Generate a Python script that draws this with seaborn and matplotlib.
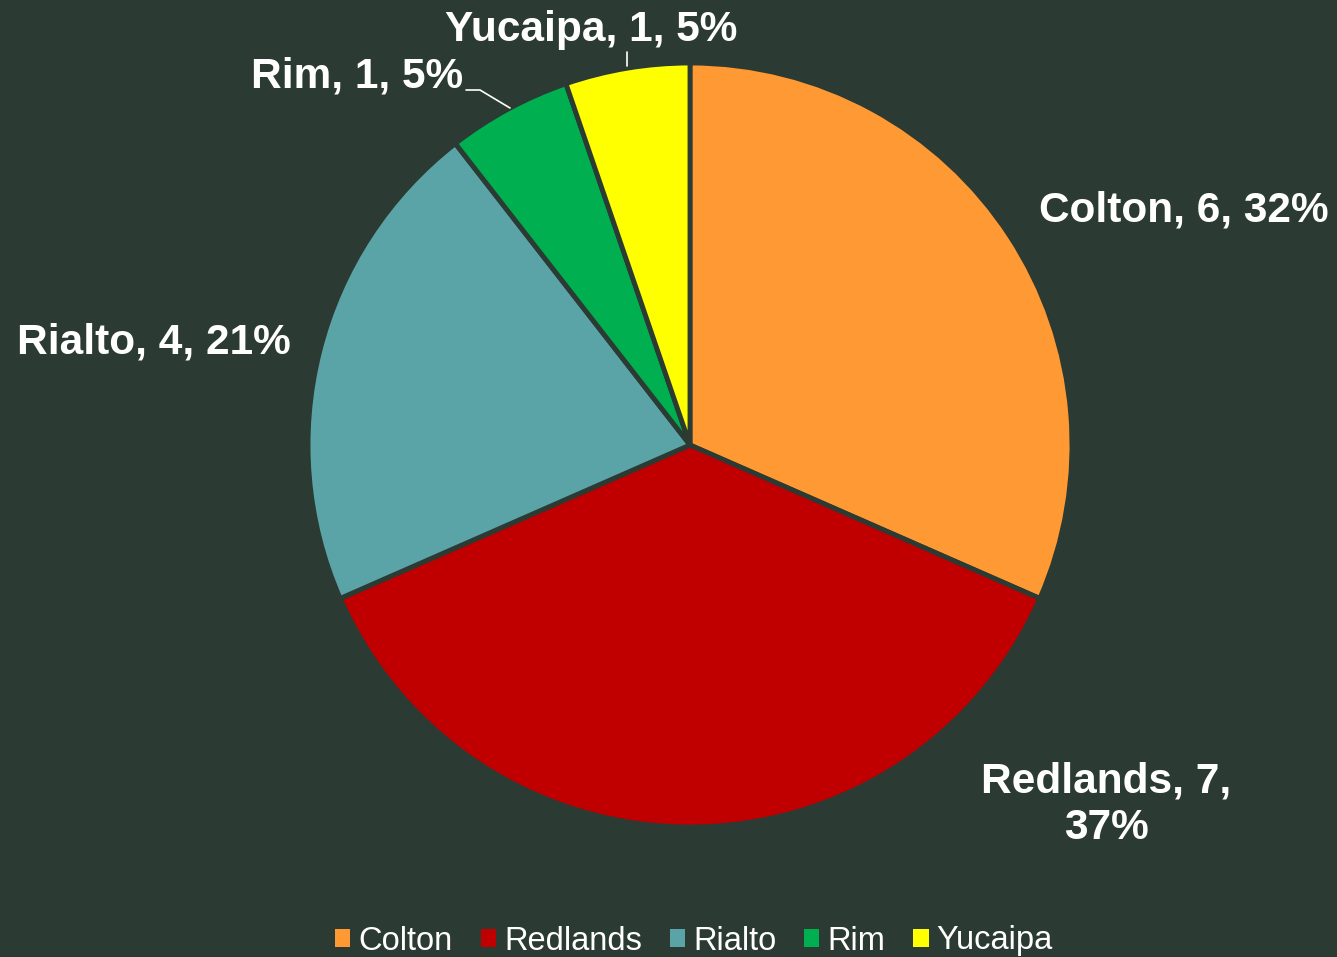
import matplotlib
matplotlib.use("Agg")
import matplotlib.pyplot as plt
from matplotlib.patches import Patch
import seaborn as sns

# Cities and counts
cities = ["Colton", "Redlands", "Rialto", "Rim", "Yucaipa"]
counts = [6, 7, 4, 1, 1]
colors = ["#FF9933", "#C00000", "#5AA3A6", "#00B050", "#FFFF00"]

BG = "#2B3A32"

sns.set_theme(style="white", rc={"axes.facecolor": BG, "figure.facecolor": BG})
plt.rcParams["font.family"] = ["Liberation Sans", "DejaVu Sans"]

W, H = 1337, 957
fig = plt.figure(figsize=(W / 100, H / 100), dpi=100)
ax = fig.add_axes([0, 0, 1, 1])

cx, cy, r = 690, 445, 382
# y axis runs downward, so counterclockwise in data space draws clockwise on screen
ax.pie(counts, colors=colors, startangle=-90, counterclock=True,
       center=(cx, cy), radius=r, frame=True,
       wedgeprops=dict(edgecolor=BG, linewidth=3.5))
ax.set_xlim(0, W)
ax.set_ylim(H, 0)
ax.set_aspect("equal")
ax.axis("off")

total = sum(counts)
labels = [f"{c}, {v}, {round(100 * v / total):.0f}%" for c, v in zip(cities, counts)]

txt = dict(color="white", fontsize=30.5, fontweight="bold")
# Colton
ax.text(1184, 211, labels[0], ha="center", va="center", **txt)
# Redlands (wrapped)
name, val, pct = labels[1].split(", ")
ax.text(1106, 805, f"{name}, {val},\n{pct}", ha="center", va="center",
        linespacing=1.22, **txt)
# Rialto
ax.text(154, 343, labels[2], ha="center", va="center", **txt)
# Rim with leader line
ax.text(463, 76, labels[3], ha="right", va="center", **txt)
ax.plot([466, 480, 510], [90, 90, 108], color="white", lw=1.2)
# Yucaipa with leader line
ax.text(591, 30, labels[4], ha="center", va="center", **txt)
ax.plot([627, 627], [52, 66], color="white", lw=1.2)

handles = [Patch(facecolor=c, edgecolor="none", label=n) for c, n in zip(colors, cities)]
leg = ax.legend(handles=handles, loc="center", bbox_to_anchor=(694 / W, 1 - 941 / H),
                bbox_transform=fig.transFigure, ncol=5, frameon=False,
                fontsize=23.5, handlelength=0.47, handleheight=0.47,
                handletextpad=0.25, columnspacing=0.85)
for t in leg.get_texts():
    t.set_color("white")

fig.savefig("out.png", dpi=100, facecolor=BG)
